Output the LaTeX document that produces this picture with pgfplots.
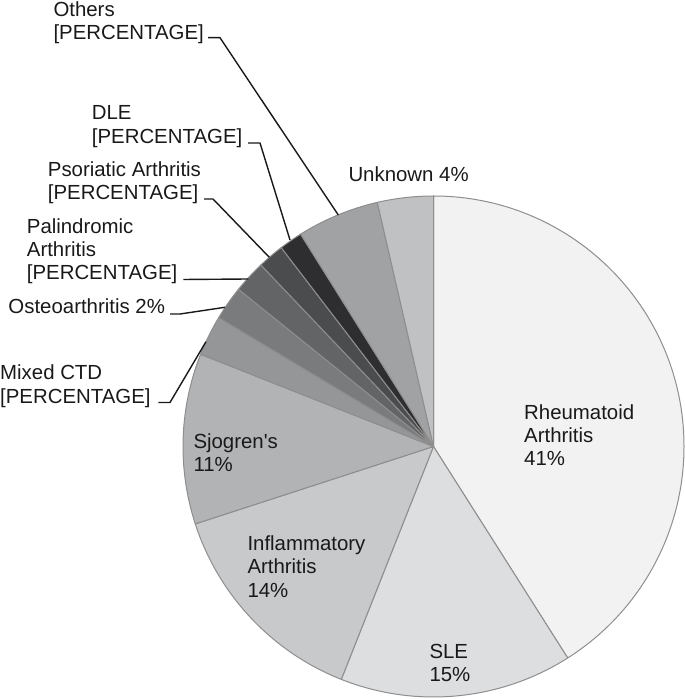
\documentclass[border=0pt]{standalone}
\usepackage{fontspec}
\setmainfont{Liberation Sans}
\usepackage{pgfplots}
\pgfplotsset{compat=1.18}

% slice fills, clockwise from 12 o'clock
\definecolor{cRA}{HTML}{F2F2F2}
\definecolor{cSLE}{HTML}{DDDEE0}
\definecolor{cINF}{HTML}{C8C9CB}
\definecolor{cSJO}{HTML}{B2B3B5}
\definecolor{cMIX}{HTML}{959698}
\definecolor{cOST}{HTML}{7A7B7D}
\definecolor{cPAL}{HTML}{636466}
\definecolor{cPSO}{HTML}{4B4C4E}
\definecolor{cDLE}{HTML}{2E2D2F}
\definecolor{cOTH}{HTML}{A1A2A4}
\definecolor{cUNK}{HTML}{C0C1C3}
\definecolor{edge}{HTML}{8E8E8E}

\begin{document}
\begin{tikzpicture}[lbl/.style={anchor=base west, align=left, inner sep=0pt,
    font=\fontsize{20.4}{23.3}\selectfont, text=black!90},
  lead/.style={black!90, line width=1.4pt}]
\begin{axis}[
  x=1pt, y=1pt,
  xmin=0, xmax=685, ymin=0, ymax=699,
  axis lines=none, ticks=none, clip=false,
]
\addplot[draw=none] coordinates {(0,0) (685,699)};
\coordinate (bl) at (axis cs:0,0);
\coordinate (tr) at (axis cs:685,699);

% pie: share in percent / fill colour
\pgfplotsextra{
  \def\cx{433.5}\def\cy{252.5}\def\R{250.5}
  \gdef\angA{90}
  \foreach \p/\c in {41/cRA, 15/cSLE, 14/cINF, 11/cSJO, 2.6/cMIX,
                     2.2/cOST, 2.1/cPAL, 1.7/cPSO, 1.5/cDLE, 5.3/cOTH, 3.6/cUNK}{
    \pgfmathsetmacro\angB{\angA-3.6*\p}
    \filldraw[fill=\c, draw=edge, line width=1pt, line join=round]
      (axis cs:\cx,\cy) -- ++(\angA:\R pt)
      arc[start angle=\angA, end angle=\angB, radius=\R pt] -- cycle;
    \global\let\angA\angB
  }
}

% labels inside the pie (placed at the baseline of their last line)
\node[lbl] at (axis cs:524,233) {Rheumatoid\\Arthritis\\41\%};
\node[lbl] at (axis cs:429.3,17.3) {SLE\\15\%};
\node[lbl] at (axis cs:247.3,101.7) {Inflammatory\\Arthritis\\14\%};
\node[lbl] at (axis cs:193.3,227.3) {Sjogren\textquotesingle s\\11\%};
\node[lbl] at (axis cs:348.3,517.3) {Unknown 4\%};

% labels outside with leader lines
\node[lbl] at (axis cs:53.3,659) {Others\\{[PERCENTAGE]}};
\draw[lead] (axis cs:208,661.3) -- (axis cs:220,661.3) -- (axis cs:338.3,484);

\node[lbl] at (axis cs:91.7,555.7) {DLE\\{[PERCENTAGE]}};
\draw[lead] (axis cs:248,556) -- (axis cs:260,556) -- (axis cs:290,459);

\node[lbl] at (axis cs:47.7,499) {Psoriatic Arthritis\\{[PERCENTAGE]}};
\draw[lead] (axis cs:204,500) -- (axis cs:213,500) -- (axis cs:269.3,441.7);

\node[lbl] at (axis cs:26.7,419) {Palindromic\\Arthritis\\{[PERCENTAGE]}};
\draw[lead] (axis cs:183.3,419.5) -- (axis cs:248.3,420);

\node[lbl] at (axis cs:8.3,385.7) {Osteoarthritis 2\%};
\draw[lead] (axis cs:170,385) -- (axis cs:180,385) -- (axis cs:225,391.7);

\node[lbl] at (axis cs:0,295.7) {Mixed CTD\\{[PERCENTAGE]}};
\draw[lead] (axis cs:158.3,296.5) -- (axis cs:170,296.5) -- (axis cs:206,357.3);
\end{axis}
\pgfresetboundingbox
\path[use as bounding box] (bl) rectangle (tr);
\end{tikzpicture}
\end{document}
